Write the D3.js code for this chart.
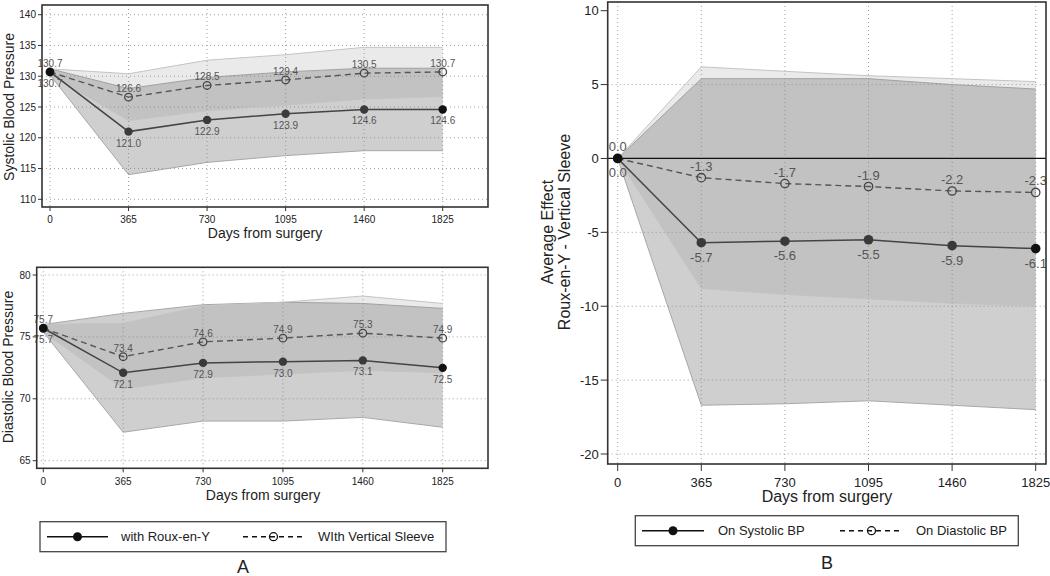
<!DOCTYPE html>
<html><head><meta charset="utf-8">
<script src="https://cdn.jsdelivr.net/npm/d3@7"></script>
<style>body{margin:0;background:#fff}svg{display:block;font-family:"Liberation Sans",Arial,sans-serif}</style>
</head><body><svg id="c" width="1050" height="576"></svg>
<script>
const days = [0, 365, 730, 1095, 1460, 1825];
const xTickLabels = ["0", "365", "730", "1095", "1460", "1825"];

// Panel A top: systolic
const sysRoux = [130.7, 121.0, 122.9, 123.9, 124.6, 124.6];
const sysRouxLo = [130.2, 114.0, 116.0, 117.1, 117.9, 117.9];
const sysRouxHi = [131.2, 128.0, 129.8, 130.7, 131.3, 131.3];
const sysSleeve = [130.7, 126.6, 128.5, 129.4, 130.5, 130.7];
const sysSleeveLo = [130.2, 122.8, 124.4, 125.3, 126.3, 126.7];
const sysSleeveHi = [131.2, 130.4, 132.6, 133.5, 134.7, 134.7];
const sysTicks = [110, 115, 120, 125, 130, 135, 140];

// Panel A bottom: diastolic
const diaRoux = [75.7, 72.1, 72.9, 73.0, 73.1, 72.5];
const diaRouxLo = [75.4, 67.3, 68.2, 68.2, 68.5, 67.7];
const diaRouxHi = [76.0, 76.9, 77.6, 77.8, 77.7, 77.3];
const diaSleeve = [75.7, 73.4, 74.6, 74.9, 75.3, 74.9];
const diaSleeveLo = [75.4, 70.8, 71.7, 72.0, 72.3, 72.1];
const diaSleeveHi = [76.0, 76.1, 77.5, 77.8, 78.3, 77.7];
const diaTicks = [65, 70, 75, 80];

// Panel B: average effect
const effSys = [0.0, -5.7, -5.6, -5.5, -5.9, -6.1];
const effSysLo = [0, -16.7, -16.6, -16.4, -16.7, -17.0];
const effSysHi = [0, 5.4, 5.4, 5.4, 5.0, 4.7];
const effDia = [0.0, -1.3, -1.7, -1.9, -2.2, -2.3];
const effDiaLo = [0, -8.8, -9.2, -9.5, -9.8, -10.0];
const effDiaHi = [0, 6.2, 5.9, 5.6, 5.4, 5.2];
const effTicks = [-20, -15, -10, -5, 0, 5, 10];

const svg = d3.select("#c");
svg.append("rect").attr("width", 1050).attr("height", 576).attr("fill", "#fff");

function panel(cfg) {
  const g = svg.append("g");
  const x = d3.scaleLinear().domain([0, 1825]).range(cfg.xr);
  const y = d3.scaleLinear().domain(cfg.yd).range(cfg.yr);
  const b = cfg.box;
  // grid
  const grid = g.append("g").attr("stroke", "#a0a0a0").attr("stroke-width", 1).attr("stroke-dasharray", "1,3");
  cfg.yTicks.forEach(t => {
    if (cfg.noGridAt && cfg.noGridAt.includes(t)) return;
    grid.append("line").attr("x1", b.x0).attr("x2", b.x1).attr("y1", y(t)).attr("y2", y(t));
  });
  days.forEach(d => grid.append("line").attr("x1", x(d)).attr("x2", x(d)).attr("y1", b.y0).attr("y2", b.y1));
  // bands
  const area = (lo, hi) => d3.area().x((d, i) => x(days[i])).y0((d, i) => y(lo[i])).y1((d, i) => y(hi[i]))(days);
  const edge = arr => d3.line().x((d, i) => x(days[i])).y((d, i) => y(arr[i]))(days);
  cfg.bands.forEach(bd => {
    g.append("path").attr("d", area(bd.lo, bd.hi)).attr("fill", "#808080").attr("fill-opacity", bd.op).attr("stroke", "none");
    [bd.lo, bd.hi].forEach(a => g.append("path").attr("d", edge(a)).attr("fill", "none").attr("stroke", bd.edge).attr("stroke-width", 1));
  });
  if (cfg.zeroLine) {
    g.append("line").attr("x1", b.x0).attr("x2", b.x1).attr("y1", y(0)).attr("y2", y(0)).attr("stroke", "#111").attr("stroke-width", 1.3);
  }
  // series lines
  const ln = arr => d3.line().x((d, i) => x(days[i])).y((d, i) => y(arr[i]))(days);
  g.append("path").attr("d", ln(cfg.s2)).attr("fill", "none").attr("stroke", "#555").attr("stroke-width", 1.4).attr("stroke-dasharray", "6,4");
  g.append("path").attr("d", ln(cfg.s1)).attr("fill", "none").attr("stroke", "#444").attr("stroke-width", 1.5);
  cfg.s2.forEach((v, i) => g.append("circle").attr("cx", x(days[i])).attr("cy", y(v)).attr("r", cfg.rOpen).attr("fill", "none").attr("stroke", "#444").attr("stroke-width", 1.3));
  cfg.s1.forEach((v, i) => g.append("circle").attr("cx", x(days[i])).attr("cy", y(v)).attr("r", cfg.rFill).attr("fill", i === 5 || i === 0 ? "#111" : "#3a3a3a"));
  // labels
  const lab = g.append("g").attr("font-size", cfg.labFs).attr("fill", "#555").attr("text-anchor", "middle");
  cfg.s2.forEach((v, i) => lab.append("text").attr("x", x(days[i])).attr("y", y(v) + cfg.dyAbove).text(v.toFixed(1)));
  cfg.s1.forEach((v, i) => lab.append("text").attr("x", x(days[i])).attr("y", y(v) + cfg.dyBelow).text(v.toFixed(1)));
  // frame
  g.append("rect").attr("x", b.x0).attr("y", b.y0).attr("width", b.x1 - b.x0).attr("height", b.y1 - b.y0)
    .attr("fill", "none").attr("stroke", "#333").attr("stroke-width", 1.6);
  // y axis
  const ya = g.append("g");
  cfg.yTicks.forEach(t => {
    ya.append("line").attr("x1", b.x0 - cfg.tick).attr("x2", b.x0).attr("y1", y(t)).attr("y2", y(t)).attr("stroke", "#333");
    ya.append("text").attr("x", b.x0 - cfg.tick - 2).attr("y", y(t)).attr("dy", "0.35em").attr("text-anchor", "end")
      .attr("font-size", cfg.tickFs).attr("fill", "#222").text(t);
  });
  // x axis
  days.forEach((d, i) => {
    g.append("line").attr("x1", x(d)).attr("x2", x(d)).attr("y1", b.y1).attr("y2", b.y1 + cfg.tick).attr("stroke", "#333");
    g.append("text").attr("x", x(d)).attr("y", cfg.xLabY).attr("text-anchor", "middle").attr("font-size", cfg.tickFs).attr("fill", "#222").text(xTickLabels[i]);
  });
  g.append("text").attr("x", cfg.xTitle[0]).attr("y", cfg.xTitle[1]).attr("text-anchor", "middle").attr("font-size", cfg.titleFs).attr("fill", "#222").text("Days from surgery");
  cfg.yTitle.forEach(t => {
    g.append("text").attr("transform", `translate(${t[0]},${t[1]}) rotate(-90)`).attr("text-anchor", "middle")
      .attr("font-size", cfg.yTitleFs).attr("fill", "#222").text(t[2]);
  });
}

panel({
  box: {x0: 42, x1: 488, y0: 5, y1: 207}, xr: [50, 442.7], yd: [110, 140], yr: [199.3, 14.7],
  yTicks: sysTicks, s1: sysRoux, s2: sysSleeve,
  bands: [{lo: sysRouxLo, hi: sysRouxHi, op: 0.38, edge: "#a8a8a8"}, {lo: sysSleeveLo, hi: sysSleeveHi, op: 0.17, edge: "#c4c4c4"}],
  rOpen: 3.8, rFill: 4.2, labFs: 10, dyAbove: -5, dyBelow: 15, tick: 4, tickFs: 10, xLabY: 223,
  xTitle: [265, 238], titleFs: 14, yTitle: [[14, 107, "Systolic Blood Pressure"]], yTitleFs: 14
});
panel({
  box: {x0: 36.7, x1: 488, y0: 267.3, y1: 468.3}, xr: [43.3, 442.7], yd: [65, 80], yr: [460.7, 275],
  yTicks: diaTicks, s1: diaRoux, s2: diaSleeve,
  bands: [{lo: diaRouxLo, hi: diaRouxHi, op: 0.38, edge: "#a8a8a8"}, {lo: diaSleeveLo, hi: diaSleeveHi, op: 0.17, edge: "#c4c4c4"}],
  rOpen: 3.8, rFill: 4.2, labFs: 10, dyAbove: -5, dyBelow: 15, tick: 4, tickFs: 10, xLabY: 485,
  xTitle: [263, 500], titleFs: 14, yTitle: [[13, 367, "Diastolic Blood Pressure"]], yTitleFs: 14
});
panel({
  box: {x0: 607.7, x1: 1046, y0: 2, y1: 464}, xr: [617.7, 1035.7], yd: [-20, 10], yr: [454, 10.7],
  yTicks: effTicks, noGridAt: [0, 10], s1: effSys, s2: effDia, zeroLine: true,
  bands: [{lo: effSysLo, hi: effSysHi, op: 0.38, edge: "#a8a8a8"}, {lo: effDiaLo, hi: effDiaHi, op: 0.17, edge: "#c4c4c4"}],
  rOpen: 4.2, rFill: 4.8, labFs: 13, dyAbove: -7, dyBelow: 19, tick: 7, tickFs: 13, xLabY: 487,
  xTitle: [827, 502], titleFs: 16,
  yTitle: [[553, 232, "Average Effect"], [570, 232, "Roux-en-Y  - Vertical Sleeve"]], yTitleFs: 16
});

// legends
const legendA = ["with Roux-en-Y", "WIth Vertical Sleeve"];
const legendB = ["On Systolic BP", "On Diastolic BP"];
function legend(box, items, fs) {
  const g = svg.append("g");
  g.append("rect").attr("x", box.x0).attr("y", box.y0).attr("width", box.x1 - box.x0).attr("height", box.y1 - box.y0)
    .attr("fill", "#fff").attr("stroke", "#444").attr("stroke-width", 1.3);
  const cy = (box.y0 + box.y1) / 2;
  g.append("line").attr("x1", box.l1[0]).attr("x2", box.l1[1]).attr("y1", cy).attr("y2", cy).attr("stroke", "#111").attr("stroke-width", 1.5);
  g.append("circle").attr("cx", (box.l1[0] + box.l1[1]) / 2).attr("cy", cy).attr("r", 4.5).attr("fill", "#111");
  g.append("line").attr("x1", box.l2[0]).attr("x2", box.l2[1]).attr("y1", cy).attr("y2", cy).attr("stroke", "#111").attr("stroke-width", 1.4).attr("stroke-dasharray", "5,4");
  g.append("circle").attr("cx", (box.l2[0] + box.l2[1]) / 2).attr("cy", cy).attr("r", 4).attr("fill", "none").attr("stroke", "#111").attr("stroke-width", 1.3);
  g.append("text").attr("x", box.t1).attr("y", cy).attr("dy", "0.35em").attr("font-size", fs).attr("fill", "#222").text(items[0]);
  g.append("text").attr("x", box.t2).attr("y", cy).attr("dy", "0.35em").attr("font-size", fs).attr("fill", "#222").text(items[1]);
}
legend({x0: 40, x1: 446, y0: 521.7, y1: 551.7, l1: [47, 108], l2: [243, 304], t1: 121, t2: 318}, legendA, 13);
legend({x0: 635.3, x1: 1018.3, y0: 515.7, y1: 545.7, l1: [642, 704], l2: [840, 903], t1: 718, t2: 916}, legendB, 13);

svg.append("text").attr("x", 243).attr("y", 573).attr("text-anchor", "middle").attr("font-size", 18).attr("fill", "#222").text("A");
svg.append("text").attr("x", 827).attr("y", 569).attr("text-anchor", "middle").attr("font-size", 18).attr("fill", "#222").text("B");
</script></body></html>
